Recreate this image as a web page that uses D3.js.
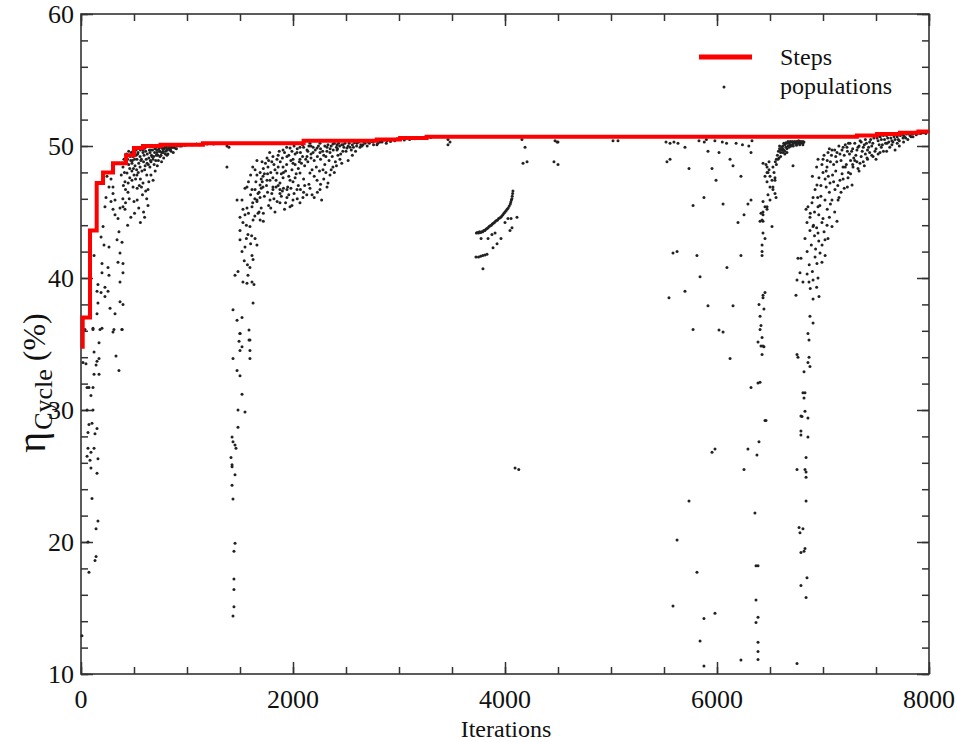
<!DOCTYPE html>
<html>
<head>
<meta charset="utf-8">
<script src="https://cdn.jsdelivr.net/npm/d3@7"></script>
<style>
  body { margin: 0; background: #fff; }
  svg text { font-family: "Liberation Serif", "Times New Roman", serif; fill: #111; }
  .axis path { display: none; }
  .axis line { stroke: #333; stroke-width: 1.5; }
</style>
</head>
<body>
<svg width="957" height="742"></svg>
<script>
// best-so-far step curve (iteration, efficiency %)
const stepIter = [0, 16, 85, 148, 208, 302, 425, 500, 585, 750, 1150, 2100, 2790, 3010, 3260, 7320, 7510, 7725, 7900, 8000];
const stepEta  = [34.8, 37.0, 43.6, 47.2, 48.0, 48.7, 49.3, 49.85, 50.0, 50.1, 50.2, 50.4, 50.5, 50.6, 50.7, 50.8, 50.9, 51.0, 51.1, 51.1];

const xTicks = [0, 2000, 4000, 6000, 8000];
const yTicks = [10, 20, 30, 40, 50, 60];

// populations as [iteration, eta]
const popFirst = [
  [113,36.1],[179,36.1],[302,35.9],[387,36.1],[170,35.1],[123,34.4],[330,34.1],[358,33.0],[19,33.6],[47,33.5],
  [142,33.4],[170,33.9],[151,33.7],[123,32.7],[170,32.7],[57,31.7],[75,31.7],[113,31.7],[94,31.1],[57,30.0],
  [113,30.0],[104,29.0],[75,28.9],[151,28.6],[66,28.3],[132,28.2],[66,27.1],[123,27.1],[94,26.8],[57,26.5],
  [160,26.3],[85,26.2],[94,25.6],[151,25.2],[104,23.3],[160,21.6],[142,21.0],[66,20.0],[142,18.9],[132,18.6],
  [75,17.7],[9,12.9],
  [283,47.5],[264,46.9],[302,46.4],[236,46.1],[283,45.8],[321,45.9],[226,45.4],[302,45.2],[368,45.3],[321,44.8],
  [349,44.5],[396,45.4],[415,45.2],[189,43.1],[217,42.5],[264,42.35],[340,42.9],[387,42.7],[358,43.5],[123,41.7],
  [198,41.1],[255,40.8],[368,41.9],[349,41.2],[396,41.1],[198,40.4],[264,40.2],[396,40.4],[368,39.7],[160,39.5],
  [226,39.3],[151,39.0],[255,39.0],[189,38.9],[160,38.1],[226,38.6],[368,38.2],[396,38.0],[151,37.3],[274,37.7],
  [321,37.3],[113,36.2],[198,36.2],[311,36.1],[387,36.1],[38,36.1],[208,43.9],[245,47.7],[302,46.9]
];
const popFirstDense = [
  [396,48.4],[434,47.95],[415,47.3],[481,47.4],[491,46.9],[443,46.5],[528,47.8],[585,47.2],[632,46.7],[632,45.5],
  [557,48.4],[623,48.7],[679,49.0],[717,49.5],[774,49.5],[840,49.7],[887,49.85],[745,49.2],[811,49.3],[670,49.2],
  [557,49.2],[528,49.0],[481,48.7],[491,49.2],[585,49.5],[651,49.5],[538,49.5],[604,49.85],[698,49.85],[792,49.9],
  [868,49.9],[934,50.0],[1000,50.1],[1090,50.15],[1190,50.15],[1377,50.0],
  [450,48.6],[470,48.9],[510,48.5],[540,48.0],[560,47.5],[600,48.2],[620,47.8],[650,48.4],[690,48.6],[700,48.1],
  [730,48.9],[760,49.5],[780,49.1],[800,49.6],[820,49.4],[850,49.6],[870,49.5],[900,49.8],[440,49.0],[460,47.6],
  [500,47.8],[520,49.3],[570,49.0],[590,48.8],[640,49.1],[660,48.8],[710,49.3],[740,49.6],[770,49.8],[810,49.8],
  [860,49.9],[480,48.1],[530,46.8],[580,46.3],[610,46.6],[420,46.7],[400,47.0],[455,46.0],[500,45.8],[545,45.3],
  [600,44.6],[640,47.3],[430,49.4],[475,49.5],[520,49.7],[560,49.7],[610,49.6],[660,49.7],[700,49.8],[750,49.9],
  [820,50.0],[590,45.0],[470,44.6],[560,44.2],[1377,48.4],[1396,49.9],
  [410,48.0],[425,48.8],[445,47.2],[460,48.3],[465,49.2],[485,48.9],[495,48.3],[505,49.0],[515,47.5],[525,48.2],
  [535,49.4],[545,48.7],[550,47.0],[565,48.9],[575,48.1],[585,49.7],[595,49.3],[605,48.5],[615,49.0],[625,49.4],
  [635,48.6],[645,49.7],[655,48.9],[665,49.3],[675,49.7],[685,49.2],[695,49.5],[705,48.9],[715,49.7],[725,49.3],
  [735,49.8],[745,49.6],[755,49.3],[765,49.9],[775,49.6],[785,49.8],[795,49.4],[805,49.95],[815,49.7],[825,49.8],
  [835,49.9],[845,49.8],[855,50.0],[880,49.9],[910,50.0],[950,50.0],[980,50.05],[1050,50.1],[1120,50.1],[1250,50.15],
  [420,45.7],[440,44.0],[505,44.9],[530,45.9],[570,46.9],[620,46.0],[660,47.8],[680,47.4],[720,48.5],[760,48.8],
  [395,46.0],[380,47.8],[405,49.0],[450,49.6],[490,49.6]
];
const popSecond = [
  [1500,35.8],[1491,35.2],[1500,34.5],[1594,35.3],[1594,34.5],[1594,33.9],[1434,33.9],[1472,33.0],[1500,32.6],[1519,31.2],
  [1481,30.0],[1547,29.85],[1481,28.7],[1425,27.95],[1434,27.6],[1453,27.35],[1462,27.1],[1415,26.4],[1425,25.85],[1425,25.7],
  [1453,25.1],[1425,24.3],[1434,23.26],[1453,19.9],[1443,19.3],[1443,17.2],[1443,16.4],[1443,15.1],[1434,14.4],
  [1453,40.2],[1481,40.5],[1528,39.7],[1566,39.6],[1613,39.7],[1632,39.5],[1575,40.2],[1594,40.8],[1623,41.4],[1613,41.7],
  [1519,42.0],[1547,42.35],[1500,42.9],[1660,42.5],[1642,43.0],[1575,43.3],[1500,43.6],[1528,44.2],[1594,43.9],[1623,44.4],
  [1670,44.9],[1547,44.8],[1500,44.6],[1566,45.3],[1613,45.4],[1519,45.9],[1660,45.8],[1689,46.1],[1642,46.7],[1670,46.4],
  [1689,47.05],[1755,47.4],[1717,46.9],[1811,46.9],[1877,46.7],[1943,46.1],[2000,45.9],[2066,45.7],[1566,46.9],[1623,38.1],
  [1434,37.6],[1472,36.8],[1519,37.0],[1585,36.06],[1500,35.8],[1585,35.3],[1519,34.8]
];
const popSecondDense = [
  [1472,45.9],[1528,45.2],[1547,46.8],[1613,46.7],[1660,45.9],[1642,48.2],[1708,48.8],[1755,49.1],[1811,49.2],[1906,49.7],
  [1972,49.85],[2066,49.9],[2160,50.2],[2255,50.2],[2377,50.15],[2472,50.1],[2604,50.2],[2755,50.3],[2887,50.4],[3009,50.5],
  [3462,50.1],[3462,50.5],
  [1717,47.7],[1783,47.4],[1849,47.95],[1906,48.4],[2000,48.7],[2066,49.0],[2132,49.2],[2189,49.5],[2255,49.5],[2349,49.5],
  [2415,49.7],[2509,49.85],[2632,49.9],[1811,46.7],[1877,46.4],[1943,46.7],[2038,46.7],[2094,46.1],[1972,45.4],[1877,45.7],
  [1783,45.9],[2227,47.4],[2283,48.2],[2321,46.9],[2255,46.7],[2160,47.95],[2066,47.95],[1972,47.4],[1877,47.2],[1906,47.6],
  [1764,48.4],[1849,49.0],[1943,49.2],[2038,49.5],[2132,49.7],[2227,49.85],[2321,49.9],[2415,50.1],[2538,49.9],[2660,50.1],
  [2792,50.1],[2443,49.0],[2377,48.4],[2349,47.8],[2424,49.3],
  [1720,48.3],[1790,48.0],[1820,48.6],[1860,48.4],[1890,47.9],[1930,48.1],[1960,47.7],[1990,48.2],[2020,48.6],[2050,48.3],
  [2080,48.7],[2110,48.5],[2140,48.8],[2170,49.1],[2200,48.9],[2230,49.2],[2260,49.0],[2290,49.3],[2320,49.6],[2350,49.8],
  [2380,49.7],[2410,49.9],[2440,50.0],[2480,49.9],[2520,50.0],[2560,50.1],[2600,50.0],[2640,50.1],[2680,50.2],[2700,50.0],
  [2720,50.2],[2760,50.1],[2800,50.2],[2840,50.3],[2880,50.2],[2920,50.35],[2960,50.4],[3050,50.45],[3100,50.5],[3150,50.55],
  [3200,50.6],[3250,50.6],[3300,50.65],[1750,47.0],[1800,46.4],[1840,46.9],[1900,46.6],[1950,46.9],[2000,47.3],[2050,47.0],
  [2100,47.5],[2150,47.1],[2200,47.7],[2250,48.1],[2300,48.6],[2340,48.9],[2370,49.2],[2400,48.8],[2450,49.4],[2500,49.6],
  [2550,49.7],[1700,47.5],[1680,46.5],[1650,47.3],[1730,46.2],[1770,45.5],[1850,45.8],[1920,45.2],[1990,45.5],[2100,46.5],
  [2180,46.3],[2270,45.9],[1780,49.5],[1870,49.6],[1940,49.9],[2010,50.0],[2090,50.1],[2170,50.0],[1620,48.4],[1660,48.9],
  [1600,47.8],[1580,47.3],[1560,44.0],[1610,43.2],[1540,41.3],[1570,41.0],[1640,44.7],[1690,44.4],[1700,45.3],[1720,44.9],
  [1660,47.8],[1690,48.0],[1710,47.3],[1740,48.7],[1760,47.9],[1770,48.9],[1800,48.8],[1810,47.6],[1830,48.2],[1840,47.4],
  [1860,49.3],[1880,48.8],[1900,49.1],[1910,48.0],[1920,49.5],[1940,48.6],[1960,49.3],[1980,48.9],[1990,49.6],[2000,49.0],
  [2020,49.4],[2030,47.9],[2040,49.8],[2060,48.8],[2070,49.5],[2090,49.2],[2100,49.9],[2120,49.0],[2140,49.6],[2150,50.0],
  [2170,49.4],[2180,48.2],[2190,49.9],[2210,49.7],[2220,48.4],[2240,50.0],[2260,49.8],[2280,49.6],[2300,50.0],[2310,49.2],
  [2330,50.1],[2360,50.0],[2390,50.2],[2420,49.8],[2430,50.2],[2460,50.1],[2470,49.6],[2490,50.2],[2530,50.2],[2570,49.9],
  [2580,50.25],[2620,50.3],[2650,50.0],[2670,50.3],[2710,50.3],[2740,50.35],[2780,50.4],[2820,50.3],[2860,50.45],[2900,50.5],
  [2940,50.5],[2980,50.55],[3020,50.6],[3070,50.6],[3120,50.6],[3180,50.65],[1700,46.8],[1730,47.9],[1760,46.5],[1790,45.3],
  [1820,46.0],[1830,45.0],[1860,47.0],[1890,46.2],[1910,46.8],[1930,45.7],[1960,46.3],[1980,46.8],[2010,46.4],[2020,47.6],
  [2040,46.0],[2070,46.7],[2110,47.0],[2130,46.3],[2160,46.8],[2200,46.1],[2230,46.5],[2260,47.1],[2290,47.5],[2310,48.0],
  [2330,47.2],[2360,48.2],[2390,48.0],[2410,48.5],[2460,48.7],[2520,48.9],[2560,49.3],[2590,49.6],[1640,46.0],[1620,45.7],
  [1600,46.3],[1680,45.0],[1720,44.3],[1580,44.9],[1600,42.6],[1560,43.0]
];
const popArc = [
  [3730,43.4],[3740,43.45],[3750,43.4],[3760,43.5],[3770,43.45],[3780,43.5],[3790,43.5],[3800,43.6],[3810,43.6],[3820,43.7],
  [3830,43.75],[3840,43.8],[3850,43.9],[3860,43.95],[3870,44.0],[3880,44.1],[3890,44.15],[3900,44.2],[3910,44.3],[3920,44.35],
  [3930,44.4],[3940,44.5],[3950,44.55],[3960,44.6],[3970,44.7],[3980,44.8],[3990,44.9],[4000,45.0],[4010,45.1],[4020,45.2],
  [4030,45.3],[4040,45.45],[4050,45.6],[4055,45.75],[4060,45.9],[4065,46.0],[4068,46.2],[4072,46.4],[4075,46.6],
  [3774,43.0],[3840,43.0],[3877,43.3],[3906,43.4],[3887,42.3],[3925,42.6],[3962,43.0],[4000,44.2],[4028,44.5],[4057,44.5],
  [4113,44.6],[4047,43.6],[4066,43.8],
  [3726,41.6],[3750,41.6],[3770,41.65],[3790,41.7],[3810,41.75],[3830,41.8],[3792,40.7],[4095,25.6],[4130,25.5]
];
const popTop = [
  [3481,50.3],[4160,50.5],[4189,49.9],[4170,48.7],[4208,48.8],[4472,50.4],[4500,50.3],[4462,48.8],[4500,48.6],[4491,50.3],
  [5019,50.4],[5066,50.4],[5519,50.3],[5557,50.2],[5594,50.3],[5632,50.2],[5698,49.9],[5528,48.8],[5557,49.0],[5736,48.3],
  [5774,45.5],[5585,41.9],[5623,42.0],[5811,41.7],[5547,38.5],[5698,39.0],[5774,36.1],
  [5877,46.1],[5915,49.6],[5953,48.3],[5991,47.4],[6019,49.5],[6057,45.6],[6123,49.0],[6151,48.5],[6226,47.7],[6198,44.2],
  [6255,44.8],[6292,45.6],[6321,45.9],[6321,49.5],[6226,41.7],[5840,40.1],[6094,40.8],[5915,37.9],[6151,37.9],[6019,36.06],
  [6057,35.9],[6717,48.5],[5830,50.4],[5880,50.3],[5900,50.5],[5980,50.4],[6050,50.3],[6090,50.2],[6180,50.2],[6240,50.1],
  [6300,50.0],[6330,50.4],[6123,33.9]
];
const popFourth = [
  [6434,48.7],[6472,48.4],[6491,48.2],[6481,48.0],[6453,47.7],[6519,47.4],[6547,47.6],[6472,47.3],[6500,46.9],[6528,46.7],
  [6557,46.1],[6481,46.3],[6434,45.8],[6472,45.4],[6415,44.9],[6434,44.8],[6406,44.3],[6434,44.3],[6519,43.9],[6434,43.4],
  [6453,43.0],[6425,42.5],[6425,42.0],[6425,41.7],[6453,38.9],[6434,38.7],[6434,38.5],[6396,38.0],[6443,37.65],[6406,37.1],
  [6415,36.4],[6406,36.1],[6425,35.5],[6387,35.15],[6415,34.85],[6434,34.85],
  [6462,48.6],[6491,48.8],[6528,48.4],[6538,48.0],[6500,47.7],[6547,47.4],[6472,48.0],[6528,46.9],[6547,46.4],[6500,45.9],
  [6453,45.4],[6434,45.0],[6472,45.2],[6425,44.4],
  [6570,49.3],[6580,49.6],[6590,49.8],[6600,49.5],[6610,49.9],[6620,50.0],[6630,49.7],[6640,50.1],[6650,49.9],[6660,50.2],
  [6670,50.0],[6680,50.2],[6690,50.1],[6700,50.3],[6710,50.1],[6720,50.25],[6730,50.2],[6740,50.3],[6750,50.15],[6760,50.3],
  [6770,50.2],[6780,50.3],[6790,50.25],[6800,50.3],[6810,50.2],[6820,50.3],[6600,49.2],[6620,49.5],[6640,49.6],[6660,49.8],
  [6680,49.9],[6700,50.0],[6720,50.0],[6750,50.05],[6780,50.1],[6810,50.1],[6585,49.1],[6575,49.0],
  [6590,50.0],[6610,49.7],[6630,50.2],[6650,50.25],[6670,50.35],[6690,50.35],[6710,50.35],[6730,50.35],[6750,50.35],[6770,50.4],
  [6790,50.35],[6810,50.35],[6600,49.7],[6620,49.8],[6640,49.4],[6660,49.5],[6560,49.0],[6560,48.6],[6550,48.8],
  [6425,34.2],[6387,32.05],[6406,32.1],[6321,31.7],[6462,29.2],[6396,27.6],[6292,27.05],[5981,27.05],[5953,26.8],[6377,26.6],
  [6255,25.5],[5736,23.1],[6358,22.2],[5623,20.15],[6368,18.2],[6387,18.2],[5811,17.7],[5585,15.15],[6368,15.6],[5981,14.6],
  [5877,14.2],[6387,14.3],[6368,13.9],[5840,12.5],[6387,12.4],[6387,11.7],[6226,11.06],[6387,11.1],[5877,10.6],[6443,34.8],
  [6453,29.2]
];
const popLate = [
  [6745,38.7],[6755,39.85],[6764,41.5],[6792,41.5],[6783,40.4],[6811,39.7],[6868,39.7],[6906,39.85],[6953,40.0],[6906,38.4],
  [6962,38.6],[6877,37.1],[6906,36.6],[6858,35.8],[6868,35.3],[6830,43.0],[6849,44.2],[6840,45.2],[6858,45.4],[6877,44.6],
  [6896,45.7],[6906,46.1],[6925,46.7],[6943,47.05],[6962,47.6],[6953,49.0],[7000,48.0],[7038,48.4],[7047,49.5],[7085,49.7],
  [7132,49.5],[7179,49.7],[7226,49.9],[7255,50.2],[6925,41.6],[6943,41.1],[6972,41.9],[6991,42.5],[7019,42.9],[7047,43.0],
  [7085,43.9],[7132,44.3],[7038,44.0],[7000,44.5],[6953,43.4],[6906,43.9],[6877,43.6],[6953,45.4],[7019,45.9],[7085,45.9],
  [7142,45.9],[7151,46.1],[7113,46.7],[7066,47.2],[7160,47.4],[7236,47.6],[7274,47.05],[7189,48.4],[7283,48.4],[7349,48.7],
  [7415,49.1],[7472,49.2],[7538,49.5],[7604,50.2],[7660,50.3],[7755,50.6],[7849,50.7],[7943,51.0],
  [7000,49.0],[7040,48.9],[7060,49.8],[7100,48.6],[7120,49.2],[7150,50.0],[7170,48.9],[7200,49.3],[7210,50.1],[7250,49.4],
  [7260,48.9],[7280,49.8],[7300,50.2],[7310,49.3],[7330,49.9],[7350,50.4],[7370,49.6],[7390,50.1],[7400,50.5],[7420,49.7],
  [7440,50.3],[7460,50.0],[7480,50.6],[7500,49.8],[7520,50.4],[7540,50.7],[7560,50.1],[7580,50.5],[7600,50.8],[7620,50.3],
  [7640,50.6],[7660,50.9],[7680,50.5],[7700,50.7],[7720,50.4],[7740,50.9],[7760,50.8],[7780,50.6],[7800,50.95],[7820,50.8],
  [7840,50.9],[7860,51.0],[7880,50.85],[7900,51.05],[7920,50.95],[7960,51.05],[7980,51.1],[6980,47.0],[7020,47.5],[7060,46.5],
  [7090,47.8],[7120,48.1],[7140,47.0],[7180,47.9],[7200,46.8],[7220,48.6],[7240,48.0],[7300,48.9],[7330,48.3],[7360,49.2],
  [7380,48.8],[7440,49.5],[7500,49.0],[7550,49.9],[7600,49.6],[7650,50.1],[7700,50.2],[6900,47.7],[6940,48.4],[6920,45.0],
  [6960,44.8],[6980,46.2],[7010,43.5],[6890,42.5],[6870,41.0],[6850,42.0],[6900,40.5],[6930,42.2],[6960,42.8],[6880,44.9],
  [6910,44.0],
  [6990,48.6],[7010,49.3],[7030,48.1],[7050,47.7],[7070,48.8],[7080,49.3],[7110,49.7],[7130,48.8],[7160,49.4],[7190,49.9],
  [7210,48.4],[7230,49.6],[7240,50.2],[7270,49.6],[7290,49.1],[7320,49.7],[7340,50.0],[7360,50.3],[7380,49.9],[7400,49.4],
  [7410,50.2],[7430,49.9],[7450,50.5],[7470,50.2],[7490,49.6],[7510,50.6],[7530,50.1],[7550,50.5],[7570,50.8],[7590,50.2],
  [7610,50.6],[7630,50.9],[7650,50.4],[7670,50.7],[7690,50.95],[7710,50.5],[7730,50.8],[7750,51.0],[7770,50.7],[7790,50.9],
  [7810,51.0],[7830,50.7],[7850,50.95],[7870,51.05],[7890,50.95],[7910,51.1],[7930,51.0],[7950,51.1],[7970,50.95],[7990,51.1],
  [7030,46.9],[7070,45.6],[7100,47.3],[7170,46.5],[7190,47.5],[7230,46.9],[7260,47.9],[7280,48.6],[7320,48.8],[7340,48.1],
  [7390,48.5],[7420,49.0],[7460,49.3],[7520,49.4],[7570,49.6],[7630,49.9],[7680,49.7],[7720,50.0],[7760,50.3],[7800,50.5],
  [6970,45.5],[6950,46.1],[6990,44.2],[7040,45.2],[7060,44.6],[7110,45.0],[6940,43.8],[6920,43.2],[6990,41.2],[7020,41.7],
  [6880,39.2],[6940,39.3],[6850,40.3],
  [6755,34.2],[6764,34.0],[6868,34.0],[6858,33.6],[6877,33.3],[6821,32.9],[6811,31.3],[6830,31.3],[6821,30.9],[6830,29.9],
  [6792,29.55],[6802,29.5],[6858,29.4],[6792,28.4],[6792,28.1],[6858,27.95],[6840,26.4],[6755,25.5],[6830,25.5],[6840,25.3],
  [6840,24.9],[6840,23.1],[6774,21.1],[6783,20.7],[6811,21.0],[6792,19.2],[6821,19.3],[6830,19.5],[6849,17.3],[6792,16.7],
  [6840,15.8],[6755,10.8]
];

const svg = d3.select("svg");
const x = d3.scaleLinear().domain([0, 8000]).range([81, 929]);
const y = d3.scaleLinear().domain([10, 60]).range([674, 14]);

// frame
svg.append("rect")
  .attr("x", 81).attr("y", 14).attr("width", 848).attr("height", 660)
  .attr("fill", "none").attr("stroke", "#333").attr("stroke-width", 1.6);

// inward ticks on all four sides, minor then major
function ticks(axisFn, tr, vals, size) {
  svg.append("g").attr("class", "axis").attr("transform", tr)
    .call(axisFn.tickValues(vals).tickSizeInner(-size).tickSizeOuter(0).tickFormat(""));
}
const xMinor = d3.range(0, 8001, 500), yMinor = d3.range(10, 61, 2);
ticks(d3.axisBottom(x), "translate(0,674)", xMinor, 7);
ticks(d3.axisBottom(x), "translate(0,674)", xTicks, 12);
ticks(d3.axisTop(x), "translate(0,14)", xMinor, 7);
ticks(d3.axisTop(x), "translate(0,14)", xTicks, 12);
ticks(d3.axisLeft(y), "translate(81,0)", yMinor, 7);
ticks(d3.axisLeft(y), "translate(81,0)", yTicks, 12);
ticks(d3.axisRight(y), "translate(929,0)", yMinor, 7);
ticks(d3.axisRight(y), "translate(929,0)", yTicks, 12);

// tick labels
svg.append("g").selectAll("text").data(xTicks).join("text")
  .attr("x", d => x(d)).attr("y", 708)
  .attr("text-anchor", "middle").attr("font-size", 26).text(d => d);
svg.append("g").selectAll("text").data(yTicks).join("text")
  .attr("x", 74).attr("y", d => y(d) + 9)
  .attr("text-anchor", "end").attr("font-size", 26).text(d => d);

// axis titles
svg.append("text").attr("x", 506).attr("y", 737)
  .attr("text-anchor", "middle").attr("font-size", 24).text("Iterations");
const yl = svg.append("text")
  .attr("transform", "translate(45,383) rotate(-90)")
  .attr("text-anchor", "middle");
yl.append("tspan").attr("font-size", 40).text("η");
yl.append("tspan").attr("font-size", 26).attr("dx", 2).attr("dy", 7).text("Cycle");
yl.append("tspan").attr("font-size", 32).attr("dy", -7).text(" (%)");

// populations
const allPts = [].concat(popFirst, popFirstDense, popSecond, popSecondDense, popArc, popTop, popFourth, popLate);
svg.append("g").selectAll("circle").data(allPts).join("circle")
  .attr("cx", d => x(d[0])).attr("cy", d => y(d[1]))
  .attr("r", 1.5).attr("fill", "#222");

// step line
const steps = stepIter.map((d, i) => [d, stepEta[i]]);
svg.append("path").datum(steps)
  .attr("fill", "none").attr("stroke", "#ff0000").attr("stroke-width", 4)
  .attr("d", d3.line().x(d => x(d[0])).y(d => y(d[1])).curve(d3.curveStepAfter));

// legend
svg.append("line").attr("x1", 699).attr("x2", 752).attr("y1", 57).attr("y2", 57)
  .attr("stroke", "#ff0000").attr("stroke-width", 5);
svg.append("text").attr("x", 780).attr("y", 65).attr("font-size", 24).text("Steps");
svg.append("circle").attr("cx", 724).attr("cy", 87).attr("r", 1.5).attr("fill", "#222");
svg.append("text").attr("x", 780).attr("y", 94).attr("font-size", 24).text("populations");
</script>
</body>
</html>
